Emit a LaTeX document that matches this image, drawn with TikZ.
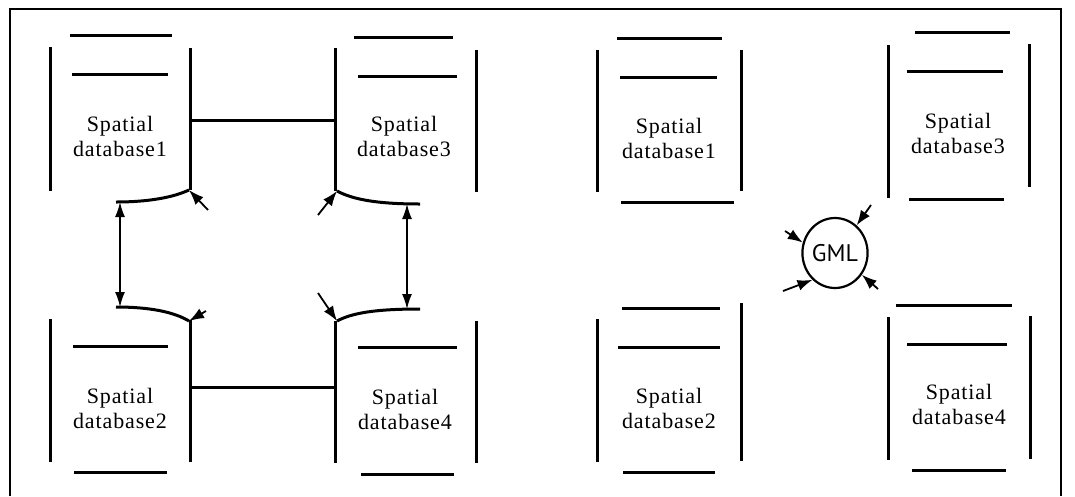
\documentclass[tikz,border=0pt]{standalone}
\usepackage{fontspec}
\setmainfont{Liberation Serif}[LetterSpace=4]
\newfontfamily\gmlfont{PT Sans}
\usetikzlibrary{arrows.meta,shapes.geometric}

\begin{document}
\begin{tikzpicture}[x=1pt,y=-1pt,
  wall/.style={line width=3pt},
  dbname/.style={font=\fontsize{22}{25}\selectfont,align=center},
  feed/.style={-{Latex[length=15pt,width=11pt]},line width=1.8pt},
  twoway/.style={{Latex[length=15pt,width=10pt]}-{Latex[length=15pt,width=10pt]},line width=1.6pt}]

  \useasboundingbox (0,0) rectangle (1075,496);

  % Frame
  \draw[line width=1.4pt] (10,496) -- (10,9) -- (1061,9) -- (1061,496);

  % Left: four stores
  \node[dbname] (db1) at (120,136) {Spatial\\database1};
  \node[dbname] (db3) at (404,136) {Spatial\\database3};
  \node[dbname] (db2) at (120,408) {Spatial\\database2};
  \node[dbname] (db4) at (405,409) {Spatial\\database4};

  \draw[wall] (50,47) -- (50,191) (70,35) -- (172,35) (72,74) -- (168,74) (190,48) -- (190,190);
  \draw[wall] (335,48) -- (335,191) (354,37) -- (453,37) (358,76) -- (457,76) (476,50) -- (476,192);
  \draw[wall] (50,319) -- (50,462) (73,346) -- (168,346) (74,472) -- (167,472) (190,320) -- (190,462);
  \draw[wall] (335,321) -- (335,463) (358,347) -- (457,347) (361,474) -- (454,474) (476,321) -- (476,463);

  \coordinate (r1) at (190,120); \coordinate (l3) at (335,120);
  \coordinate (r2) at (190,387); \coordinate (l4) at (335,387);
  \draw[wall] (r1) -- (l3) (r2) -- (l4);

  % Left: curved mouths
  \draw[wall] (116,202) coordinate (c1) .. controls (150,202) and (174,197) .. (189,190) coordinate (e1);
  \draw[wall] (337,191) coordinate (e3) .. controls (352,199) and (375,204) .. (420,204) coordinate (c3);
  \draw[wall] (116,307) coordinate (c2) .. controls (150,307) and (174,312) .. (189,321) coordinate (e2);
  \draw[wall] (337,321) coordinate (e4) .. controls (352,313) and (375,309) .. (420,309) coordinate (c4);

  \coordinate (u1) at (120,202); \coordinate (u2) at (120,307);
  \coordinate (u3) at (407,204); \coordinate (u4) at (407,309);
  \draw[twoway] (u1) -- (u2);
  \draw[twoway] (u3) -- (u4);

  \coordinate (t1) at (208,210); \coordinate (t3) at (318,215);
  \coordinate (t2) at (206,311); \coordinate (t4) at (318,293);
  \draw[feed] (t1) -- (e1);
  \draw[feed] (t3) -- (e3);
  \draw[feed] (t2) -- (e2);
  \draw[feed] (t4) -- (e4);

  % Right: four stores round GML
  \node[dbname] (gdb1) at (669,138) {Spatial\\database1};
  \node[dbname] (gdb3) at (958,133) {Spatial\\database3};
  \node[dbname] (gdb2) at (669,408) {Spatial\\database2};
  \node[dbname] (gdb4) at (959,404) {Spatial\\database4};

  \draw[wall] (597,50) -- (597,192) (617,38) -- (722,38) (620,77) -- (717,77) (621,202) -- (734,202) (741,50) -- (741,191);
  \draw[wall] (888,45) -- (888,198) (915,32) -- (1010,32) (907,71) -- (1003,71) (909,199) -- (1004,199) (1029,44) -- (1029,187);
  \draw[wall] (597,319) -- (597,462) (622,308) -- (720,308) (618,347) -- (720,347) (623,472) -- (715,472) (741,303) -- (741,461);
  \draw[wall] (888,317) -- (888,460) (896,305) -- (1012,305) (907,344) -- (1007,344) (912,470) -- (1006,470) (1030,316) -- (1030,459);

  \node[ellipse,draw,line width=2.2pt,minimum width=54pt,minimum height=70pt,inner sep=0pt,font=\gmlfont\fontsize{24}{26}\selectfont] (gml) at (835,253) {GML};

  \coordinate (g1) at (785,231); \coordinate (g2) at (871,205);
  \coordinate (g3) at (783,291); \coordinate (g4) at (878,289);
  \draw[feed] (g1) -- (gml.162);
  \draw[feed] (g2) -- (gml.52);
  \draw[feed] (g3) -- (gml.230);
  \draw[feed] (g4) -- (gml.321);

\end{tikzpicture}
\end{document}
